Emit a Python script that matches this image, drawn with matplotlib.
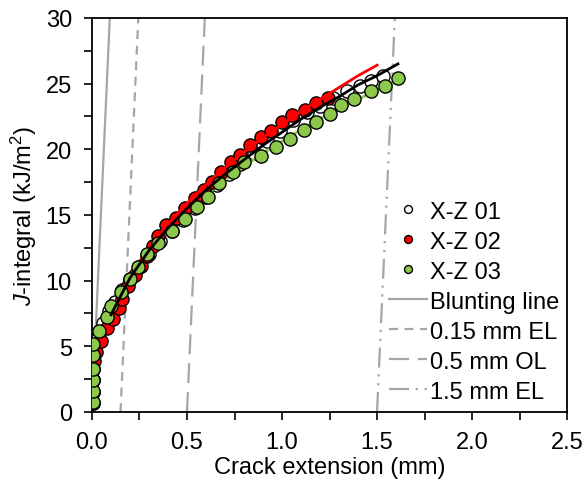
import numpy as np
import matplotlib
matplotlib.use("Agg")
import matplotlib.pyplot as plt
from matplotlib.ticker import MultipleLocator, FormatStrFormatter

plt.rcParams["font.family"] = ["Liberation Sans", "DejaVu Sans"]
plt.rcParams["mathtext.fontset"] = "custom"
plt.rcParams["mathtext.rm"] = "Liberation Sans"
plt.rcParams["mathtext.it"] = "Liberation Sans:italic"

# X-Z 01 (open circles)
xz01_da = [0.005, 0.005, 0.005, 0.005, 0.01, 0.03, 0.06, 0.09, 0.12, 0.16, 0.20, 0.25,
           0.30, 0.36, 0.42, 0.48, 0.54, 0.60, 0.66, 0.72, 0.78, 0.85, 0.92, 0.99,
           1.06, 1.13, 1.20, 1.27, 1.34, 1.41, 1.47, 1.53]
xz01_j = [0.7, 1.5, 2.4, 3.3, 4.3, 5.6, 6.8, 7.7, 8.4, 9.3, 10.1, 11.0,
          12.0, 13.0, 13.8, 14.6, 15.5, 16.4, 17.3, 18.1, 18.9, 19.7, 20.6, 21.4,
          22.2, 22.8, 23.3, 23.9, 24.4, 24.8, 25.2, 25.6]

# X-Z 02 (red)
xz02_da = [0.005, 0.005, 0.005, 0.005, 0.01, 0.02, 0.047, 0.077, 0.11, 0.14, 0.16, 0.19,
           0.225, 0.26, 0.29, 0.32, 0.35, 0.39, 0.44, 0.49, 0.54, 0.59, 0.63, 0.68,
           0.73, 0.78, 0.83, 0.89, 0.94, 1.0, 1.05, 1.12, 1.18, 1.24]
xz02_j = [0.7, 1.5, 2.4, 3.3, 3.9, 4.6, 5.4, 6.4, 7.1, 7.9, 8.6, 9.6,
          10.4, 11.1, 11.9, 12.6, 13.4, 14.2, 14.8, 15.5, 16.3, 16.9, 17.5, 18.3,
          19.0, 19.6, 20.3, 20.9, 21.4, 22.1, 22.6, 23.0, 23.5, 23.9]

# X-Z 03 (green)
xz03_da = [0.005, 0.005, 0.005, 0.005, 0.005, 0.005, 0.037, 0.077, 0.10, 0.155, 0.20, 0.24,
           0.29, 0.35, 0.42, 0.49, 0.555, 0.61, 0.67, 0.74, 0.80, 0.89, 0.97, 1.04,
           1.115, 1.18, 1.25, 1.31, 1.38, 1.47, 1.54, 1.61]
xz03_j = [0.77, 1.6, 2.4, 3.3, 4.3, 5.2, 6.2, 7.2, 8.1, 9.1, 10.1, 11.0,
          12.0, 12.9, 13.8, 14.7, 15.6, 16.4, 17.4, 18.3, 19.0, 19.5, 20.2, 20.8,
          21.5, 22.1, 22.7, 23.4, 23.8, 24.4, 24.8, 25.4]

# fitted curves
fit_da = [0.1, 0.2, 0.3, 0.4, 0.5, 0.6, 0.7, 0.8, 0.9, 1.0, 1.1, 1.2, 1.3, 1.4, 1.5, 1.61]
fit_black = [7.4, 10.2, 12.3, 14.0, 15.5, 16.9, 18.1, 19.2, 20.3, 21.3, 22.3, 23.2, 24.0, 24.9, 25.6, 26.5]
fit_red = [7.5, 10.4, 12.5, 14.3, 15.9, 17.3, 18.6, 19.8, 20.9, 21.9, 22.9, 23.8, 24.7, 25.6, 26.4, None]
fit_green = [7.6, 10.3, 12.2, 13.9, 15.3, 16.5, 17.7, 18.7, 19.7, 20.6, 21.5, 22.3, 23.1, 23.8, 24.5, 25.2]

# blunting line slope (kJ/m^2 per mm) and offsets of construction lines
blunting_slope = 320
line_offsets = [0.0, 0.15, 0.5, 1.5]
line_labels = ["Blunting line", "0.15 mm EL", "0.5 mm OL", "1.5 mm EL"]
line_dashes = [None, (4, 3), (9, 4), (9, 3, 1, 3, 1, 3)]

fig = plt.figure(figsize=(5.84, 4.85), dpi=100)
ax = fig.add_axes([0.1575, 0.1485, 0.8135, 0.8125])

grey = "#a6a6a6"
fs = 17
handles = []
for off, lab, ds in zip(line_offsets, line_labels, line_dashes):
    jj = np.array([0, 30])
    ln, = ax.plot(off + jj / blunting_slope, jj, color=grey, lw=1.6, label=lab, zorder=1)
    if ds is not None:
        ln.set_dashes(ds)
    handles.append(ln)

ms = 9.5
h1, = ax.plot(xz01_da, xz01_j, "o", mfc="white", mec="black", mew=1.0, ms=ms, label="X-Z 01", zorder=2)
h2, = ax.plot(xz02_da, xz02_j, "o", mfc="#ff0000", mec="black", mew=1.0, ms=ms, label="X-Z 02", zorder=3)
h3, = ax.plot(xz03_da, xz03_j, "o", mfc="#8cc84b", mec="black", mew=1.0, ms=ms, label="X-Z 03", zorder=4)

red_da = [d for d, v in zip(fit_da, fit_red) if v is not None]
red_j = [v for v in fit_red if v is not None]
ax.plot(fit_da, fit_green, color="#8cc84b", lw=2, zorder=2.5)
ax.plot(red_da, red_j, color="#ff0000", lw=2, zorder=3.5)
ax.plot(fit_da, fit_black, color="black", lw=2, zorder=5)

ax.set_xlim(0, 2.5)
ax.set_ylim(0, 30)
ax.xaxis.set_major_locator(MultipleLocator(0.5))
ax.xaxis.set_minor_locator(MultipleLocator(0.25))
ax.yaxis.set_major_locator(MultipleLocator(5))
ax.yaxis.set_minor_locator(MultipleLocator(2.5))
ax.xaxis.set_major_formatter(FormatStrFormatter("%.1f"))
ax.tick_params(which="both", direction="out", length=5.5, width=1.2, labelsize=fs)
ax.tick_params(axis="x", pad=8)
ax.tick_params(axis="y", pad=9)
for sp in ax.spines.values():
    sp.set_linewidth(1.3)

ax.set_xlabel("Crack extension (mm)", fontsize=fs, labelpad=2)
ax.set_ylabel(r"$J$-integral (kJ/m$^2$)", fontsize=fs, labelpad=5)

leg = ax.legend(handles=[h1, h2, h3] + handles, loc="center left",
                bbox_to_anchor=(0.625, 0.28), frameon=False, fontsize=fs,
                markerscale=0.6, handlelength=1.6, handletextpad=0.15,
                labelspacing=0.34, borderpad=0, borderaxespad=0)

fig.savefig("out.png", dpi=100)
